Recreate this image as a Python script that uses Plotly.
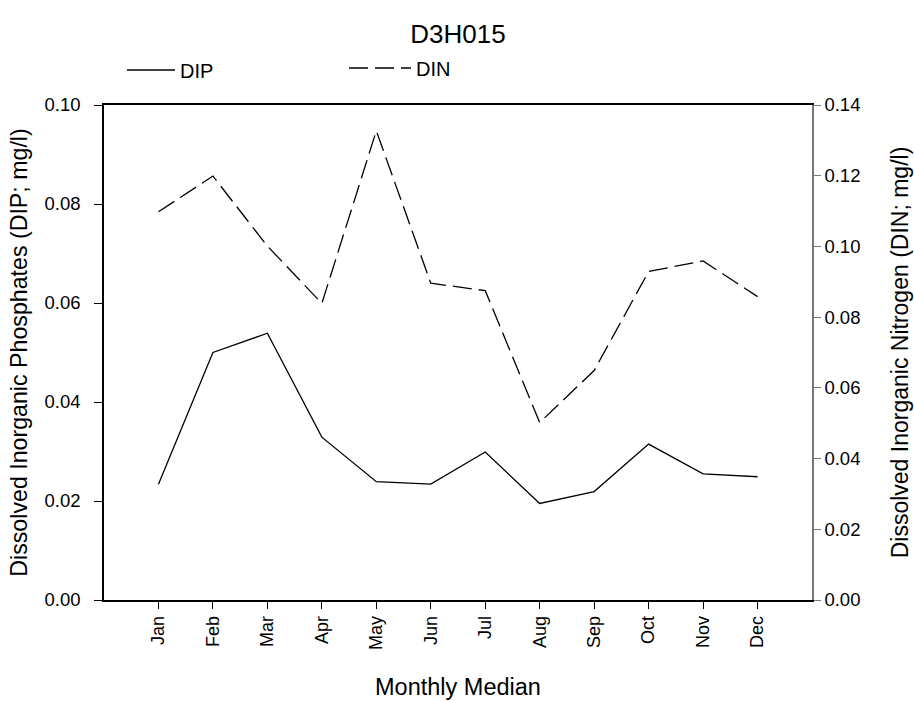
import plotly.graph_objects as go

months = ["Jan", "Feb", "Mar", "Apr", "May", "Jun", "Jul", "Aug", "Sep", "Oct", "Nov", "Dec"]
month_pos = [1, 2, 3, 4, 5, 6, 7, 8, 9, 10, 11, 12]
dip = [0.0234, 0.0500, 0.0539, 0.0329, 0.0239, 0.0234, 0.0299, 0.0195, 0.0219, 0.0315, 0.0255, 0.0249]
din = [0.1098, 0.1199, 0.1001, 0.0839, 0.1327, 0.0896, 0.0875, 0.0502, 0.0649, 0.0929, 0.0959, 0.0858]
left_ticks = [0.00, 0.02, 0.04, 0.06, 0.08, 0.10]
right_ticks = [0.00, 0.02, 0.04, 0.06, 0.08, 0.10, 0.12, 0.14]

FONT = "Liberation Sans, Arial, sans-serif"

fig = go.Figure()
fig.add_trace(go.Scatter(x=month_pos, y=dip, name="DIP", mode="lines",
                         line=dict(color="black", width=1.3), yaxis="y", legend="legend"))
fig.add_trace(go.Scatter(x=month_pos, y=din, name="DIN", mode="lines",
                         line=dict(color="black", width=1.3, dash="19px,7px"), yaxis="y2",
                         legend="legend2"))

fig.update_layout(
    width=914, height=701,
    margin=dict(l=104, r=102, t=105, b=101),
    paper_bgcolor="white", plot_bgcolor="white",
    font=dict(family=FONT, color="black", size=18),
    title=dict(text="D3H015", font=dict(size=26, family=FONT, color="black"),
               x=0.5, xanchor="center", y=1 - 34 / 701, yanchor="middle", xref="paper",
               automargin=False),
    showlegend=True,
    legend=dict(orientation="h", xref="container", yref="container",
                x=122 / 914, y=1 - 70 / 701, xanchor="left", yanchor="middle",
                font=dict(size=20, family=FONT, color="black"),
                bgcolor="rgba(0,0,0,0)", itemwidth=48),
    legend2=dict(orientation="h", xref="container", yref="container",
                 x=344 / 914, y=1 - 68 / 701, xanchor="left", yanchor="middle",
                 font=dict(size=20, family=FONT, color="black"),
                 bgcolor="rgba(0,0,0,0)", itemwidth=62),
    xaxis=dict(range=[0, 13], tickmode="array", tickvals=month_pos, ticktext=months,
               tickangle=-90, ticks="outside", ticklen=7, tickwidth=1, tickcolor="black",
               showline=True, linecolor="black", linewidth=1.5, mirror=True,
               showgrid=False, zeroline=False, automargin=False,
               tickfont=dict(size=18, family=FONT, color="black"),
               title=dict(text="Monthly Median", font=dict(size=23.5, family=FONT, color="black"),
                          standoff=30)),
    yaxis=dict(range=[0, 0.10], tickmode="array", tickvals=left_ticks,
               ticktext=[f"{v:.2f}" for v in left_ticks],
               ticks="outside", ticklen=8, tickwidth=1, tickcolor="black",
               showline=True, linecolor="black", linewidth=1.5,
               showgrid=False, zeroline=False, ticklabelstandoff=10, automargin=False,
               tickfont=dict(size=18.5, family=FONT, color="black"),
               title=dict(text="Dissolved Inorganic Phosphates (DIP; mg/l)",
                          font=dict(size=23.2, family=FONT, color="black"), standoff=10)),
    yaxis2=dict(range=[0, 0.14], tickmode="array", tickvals=right_ticks,
                ticktext=[f"{v:.2f}" for v in right_ticks],
                overlaying="y", side="right", anchor="x", automargin=False,
                ticks="outside", ticklen=7, tickwidth=1, tickcolor="#777777",
                showline=True, linecolor="#777777", linewidth=1.5,
                showgrid=False, zeroline=False,
                tickfont=dict(size=18.5, family=FONT, color="black"),
                title=dict(text="Dissolved Inorganic Nitrogen (DIN; mg/l)",
                           font=dict(size=23, family=FONT, color="black"), standoff=32)),
)

fig.write_html("out.html")
